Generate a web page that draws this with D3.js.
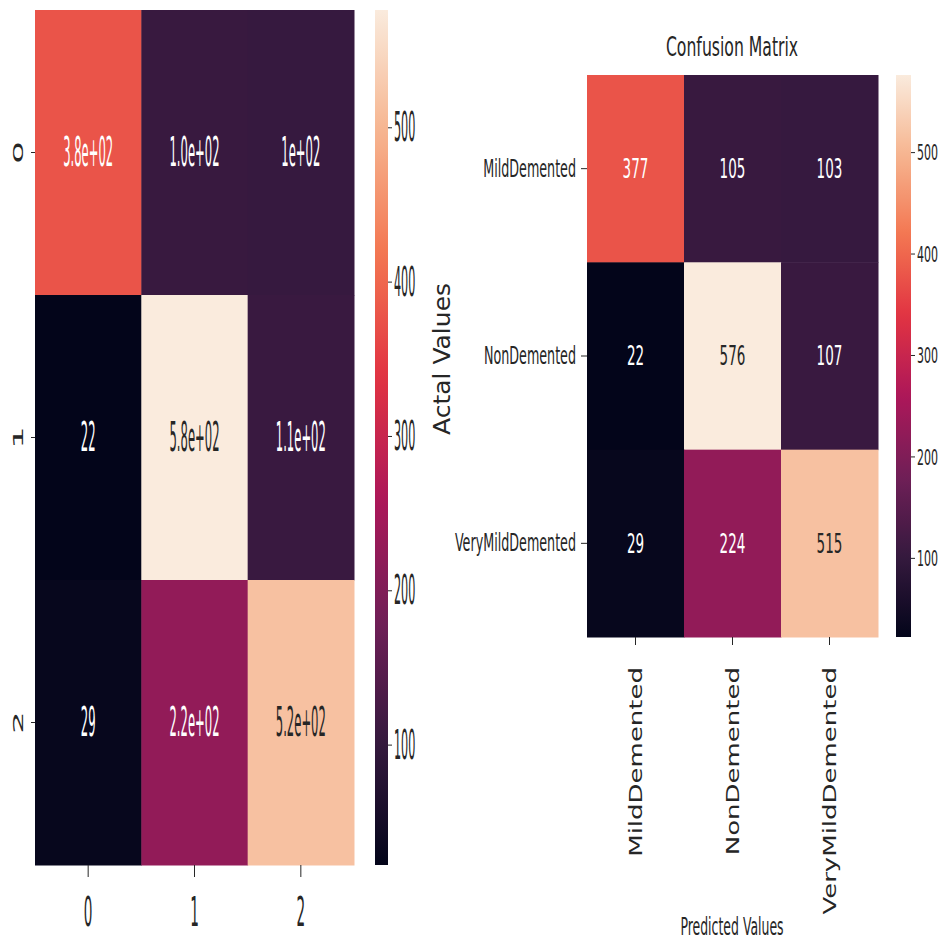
<!DOCTYPE html>
<html>
<head>
<meta charset="utf-8">
<script src="https://cdn.jsdelivr.net/npm/d3@7"></script>
<style>
  body { margin: 0; background: #fff; }
  text { font-family: "DejaVu Sans", sans-serif; }
</style>
</head>
<body>
<svg id="chart" width="945" height="941"></svg>
<script>
// class names and index labels
const classNames = ["MildDemented", "NonDemented", "VeryMildDemented"];
const indexLabels = ["0", "1", "2"];

// confusion matrix rows (actual) x cols (predicted)
const rowMild = [377, 105, 103];
const rowNon = [22, 576, 107];
const rowVeryMild = [29, 224, 515];
const matrix = [rowMild, rowNon, rowVeryMild];

// left panel annotation strings, as printed (fmt .2g)
const leftAnnot = [
    ["3.8e+02", "1.0e+02", "1e+02"],
    ["22", "5.8e+02", "1.1e+02"],
    ["29", "2.2e+02", "5.2e+02"]
];

const colorbarTicks = [100, 200, 300, 400, 500];

// seaborn "rocket" colormap stops
const rocket = ["#03051a", "#35193e", "#701f57", "#ad1759", "#e13342", "#f37651", "#f6b48f", "#faebdd"];

const svg = d3.select("#chart");
const allValues = matrix.flat();
const vmin = d3.min(allValues), vmax = d3.max(allValues);
const color = d3.scaleSequential([vmin, vmax], d3.piecewise(d3.interpolateRgb, rocket));

//Dark text on light cells, white on dark ones
function textFill(c) {
    let rgb = d3.rgb(c);
    let lum = (0.2126 * rgb.r + 0.7152 * rgb.g + 0.0722 * rgb.b) / 255;
    return lum > 0.55 ? "#262626" : "#ffffff";
}

//Squeezed text helper (the reference is stretched unevenly)
function label(parent, s, x, y, o) {
    return parent.append("text")
        .attr("transform", "translate(" + x + "," + y + ") scale(" + (o.sx || 1) + "," + (o.sy || 1) + ") rotate(" + (o.rot || 0) + ")")
        .attr("font-size", o.size)
        .attr("text-anchor", o.anchor || "middle")
        .attr("dominant-baseline", "central")
        .style("fill", o.fill || "#262626")
        .text(s);
}

function restyleTicks(axisG, dx, dy, size, sx, anchor, rot) {
    axisG.select(".domain").remove();
    axisG.selectAll(".tick line").attr("stroke", "#262626");
    axisG.selectAll(".tick text")
        .attr("x", 0).attr("y", 0).attr("dy", null)
        .attr("font-size", size)
        .attr("fill", "#262626")
        .attr("text-anchor", anchor)
        .attr("dominant-baseline", "central")
        .attr("transform", "translate(" + dx + "," + dy + ") scale(" + sx + ",1) rotate(" + rot + ")");
}

function drawHeatmap(cfg) {
    let g = svg.append("g");

    let xScale = d3.scaleBand().domain(d3.range(3)).range([cfg.x0, cfg.x1]);
    let yScale = d3.scaleBand().domain(d3.range(3)).range([cfg.y0, cfg.y1]);

    let cells = [];
    matrix.forEach((row, r) => row.forEach((v, c) => cells.push({r: r, c: c, v: v})));

    g.selectAll("rect.cell")
        .data(cells)
        .enter().append("rect")
        .attr("class", "cell")
        .attr("x", d => xScale(d.c))
        .attr("y", d => yScale(d.r))
        .attr("width", xScale.bandwidth() + 0.5)
        .attr("height", yScale.bandwidth() + 0.5)
        .attr("fill", d => color(d.v));

    cells.forEach(d => {
        label(g, cfg.annot(d), xScale(d.c) + xScale.bandwidth() / 2, yScale(d.r) + yScale.bandwidth() / 2,
            {size: cfg.annotSize, sx: cfg.annotSx, fill: textFill(color(d.v))});
    });

    //Axes
    let xAxis = g.append("g")
        .attr("transform", "translate(0," + cfg.y1 + ")")
        .call(d3.axisBottom(xScale).tickSize(cfg.xTickLen).tickFormat(i => cfg.xLabels[i]));
    restyleTicks(xAxis, 0, cfg.xLabelDy, cfg.xLabelSize, cfg.xLabelSx, cfg.xLabelAnchor, cfg.xLabelRot);

    let yAxis = g.append("g")
        .attr("transform", "translate(" + cfg.x0 + ",0)")
        .call(d3.axisLeft(yScale).tickSize(cfg.yTickLen).tickFormat(i => cfg.yLabels[i]));
    restyleTicks(yAxis, -cfg.yLabelDx, 0, cfg.yLabelSize, cfg.yLabelSx, cfg.yLabelAnchor, cfg.yLabelRot);

    //Colorbar
    let cbScale = d3.scaleLinear().domain([vmin, vmax]).range([cfg.y1, cfg.y0]);
    let gradId = "grad" + cfg.id;
    let grad = svg.append("defs").append("linearGradient")
        .attr("id", gradId)
        .attr("x1", 0).attr("y1", 1).attr("x2", 0).attr("y2", 0);
    d3.range(0, 1.0001, 0.02).forEach(t => {
        grad.append("stop")
            .attr("offset", t)
            .attr("stop-color", color(vmin + t * (vmax - vmin)));
    });
    g.append("rect")
        .attr("x", cfg.cbX)
        .attr("y", cfg.y0)
        .attr("width", cfg.cbW)
        .attr("height", cfg.y1 - cfg.y0)
        .attr("fill", "url(#" + gradId + ")");

    let cbAxis = g.append("g")
        .attr("transform", "translate(" + (cfg.cbX + cfg.cbW) + ",0)")
        .call(d3.axisRight(cbScale).tickValues(colorbarTicks).tickSize(4));
    restyleTicks(cbAxis, 6, 0, cfg.cbSize, cfg.cbSx, "start", 0);

    return g;
}

//Left panel: plain indices, .2g annotations
drawHeatmap({
    id: "L",
    x0: 35, x1: 354, y0: 10, y1: 865,
    annot: d => leftAnnot[d.r][d.c],
    annotSize: 40, annotSx: 0.29,
    xLabels: indexLabels, xTickLen: 12, xLabelDy: 47, xLabelSize: 40, xLabelSx: 0.34, xLabelAnchor: "middle", xLabelRot: 0,
    yLabels: indexLabels, yTickLen: 4, yLabelDx: 17, yLabelSize: 36, yLabelSx: 0.38, yLabelAnchor: "middle", yLabelRot: -90,
    cbX: 375, cbW: 13, cbSize: 40, cbSx: 0.28
});

//Right panel: class names, integer annotations
let right = drawHeatmap({
    id: "R",
    x0: 587, x1: 878, y0: 75, y1: 637,
    annot: d => String(d.v),
    annotSize: 27, annotSx: 0.5,
    xLabels: classNames, xTickLen: 8, xLabelDy: 30, xLabelSize: 26, xLabelSx: 0.68, xLabelAnchor: "end", xLabelRot: -90,
    yLabels: classNames, yTickLen: 6, yLabelDx: 11, yLabelSize: 24, yLabelSx: 0.53, yLabelAnchor: "end", yLabelRot: 0,
    cbX: 896, cbW: 15, cbSize: 22, cbSx: 0.5
});

label(right, "Confusion Matrix", 732, 47, {size: 27, sx: 0.58});
label(right, "Actal Values", 442, 359, {size: 25, sx: 0.95, rot: -90});
label(right, "Predicted Values", 732, 927, {size: 24, sx: 0.52});
</script>
</body>
</html>
